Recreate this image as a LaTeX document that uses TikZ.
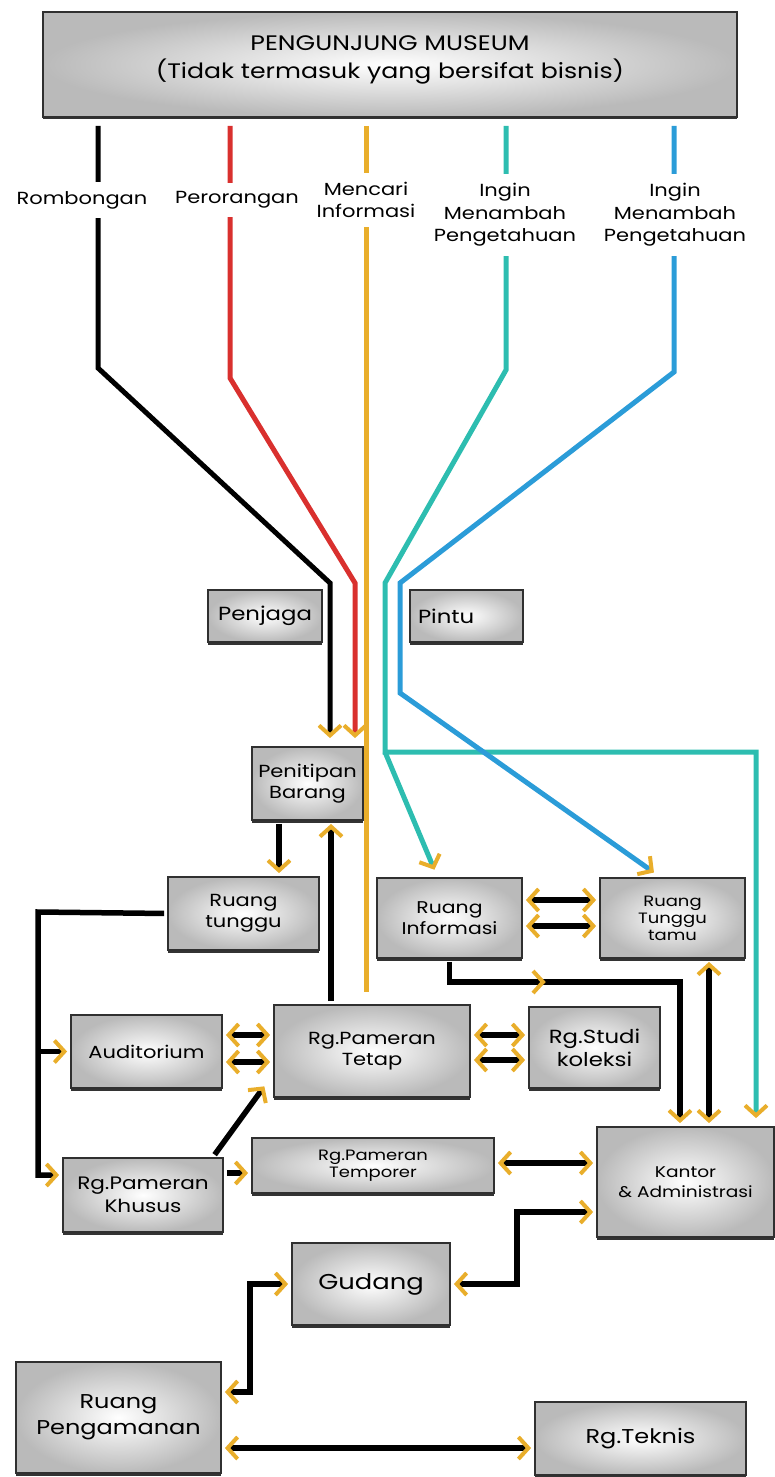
\documentclass[tikz,border=0pt]{standalone}
\usepackage{fontspec}
\setmainfont{Poppins}[FakeStretch=1.2]
\usepackage{tikz}
\usetikzlibrary{arrows.meta,calc,shadows,decorations.markings}
\definecolor{flowYellow}{HTML}{E9AE2B}
\definecolor{flowRed}{HTML}{D9302E}
\definecolor{flowTeal}{HTML}{2DBDB0}
\definecolor{flowBlue}{HTML}{2B9CD8}
\definecolor{boxEdge}{HTML}{303030}
\tikzset{
  fl/room/.style={draw=boxEdge, line width=1.8pt, inner color=white, outer color=black!27, align=center, inner sep=0pt,
    font=\fontsize{17.5}{21}\selectfont, drop shadow={shadow xshift=0pt, shadow yshift=-2.5pt, opacity=0.8, fill=black}},
  fl/small/.style={fl/room, font=\fontsize{15}{17}\selectfont},
  fl/label/.style={fill=white, align=center, inner xsep=2pt, inner ysep=9pt, font=\fontsize{17.5}{22.5}\selectfont},
  fl/line/.style={line width=5pt, shorten >=8pt},
  fl/link/.style={line width=5.5pt, black, shorten >=3pt, shorten <=3pt},
  fl/mid/.style={decoration={markings, mark=at position #1 with {\arrow{>}}}, postaction={decorate}},
  >={Straight Barb[length=10pt, width=22pt, line width=4pt, color=flowYellow]}
}

\begin{document}
\begin{tikzpicture}[x=1pt, y=-1pt]
  \useasboundingbox (0,0) rectangle (775,1477);
  \node[fl/room, minimum width=694pt, minimum height=105pt, text depth=15pt, font=\fontsize{21}{28}\selectfont] (visitor) at (390,64.5) {PENGUNJUNG MUSEUM\\(Tidak termasuk yang bersifat bisnis)};
  \node[fl/room, minimum width=114pt, minimum height=52pt, font=\fontsize{19}{21}\selectfont] (penjaga) at (265,616) {Penjaga};
  \node[fl/room, minimum width=113pt, minimum height=52pt, text width=97pt, align=left, font=\fontsize{19}{21}\selectfont] (pintu) at (466.5,616) {Pintu};
  \node[fl/room, minimum width=111pt, minimum height=73pt] (penitipan) at (307.5,783.5) {Penitipan\\Barang};
  \node[fl/room, minimum width=151pt, minimum height=73pt] (tunggu) at (243.5,913.5) {Ruang\\tunggu};
  \node[fl/room, minimum width=145pt, minimum height=80pt, font=\fontsize{17}{21}\selectfont] (info) at (449.5,918) {Ruang\\Informasi};
  \node[fl/small, minimum width=145pt, minimum height=80pt] (tamu) at (672.5,918) {Ruang\\Tunggu\\tamu};
  \node[fl/room, minimum width=151pt, minimum height=73pt] (audit) at (146.5,1051.5) {Auditorium};
  \node[fl/room, minimum width=196pt, minimum height=92pt] (tetap) at (372,1051) {Rg.Pameran\\Tetap};
  \node[fl/room, minimum width=131pt, minimum height=81pt, font=\fontsize{19}{23}\selectfont] (studi) at (594.5,1047.5) {Rg.Studi\\koleksi};
  \node[fl/small, minimum width=242pt, minimum height=55pt] (temporer) at (373,1165.5) {Rg.Pameran\\Temporer};
  \node[fl/room, minimum width=160pt, minimum height=74pt, font=\fontsize{18}{23}\selectfont] (khusus) at (143,1195) {Rg.Pameran\\Khusus};
  \node[fl/room, minimum width=177pt, minimum height=110pt, font=\fontsize{15.5}{20}\selectfont] (kantor) at (685.5,1182) {Kantor\\\& Administrasi};
  \node[fl/room, minimum width=158pt, minimum height=82pt, font=\fontsize{21.5}{24}\selectfont] (gudang) at (371,1284) {Gudang};
  \node[fl/room, minimum width=205pt, minimum height=111pt, font=\fontsize{20}{26}\selectfont] (aman) at (118.5,1417.5) {Ruang\\Pengamanan};
  \node[fl/room, minimum width=211pt, minimum height=73pt, font=\fontsize{20}{24}\selectfont] (teknis) at (640.5,1438.5) {Rg.Teknis};

  \coordinate (k1) at (98,368);  \coordinate (k2) at (330,583);
  \coordinate (r1) at (230,378); \coordinate (r2) at (355,583);
  \coordinate (y1) at (366,583);
  \coordinate (t1) at (506,370); \coordinate (t2) at (385,583);
  \coordinate (t3) at (385,752); \coordinate (t4) at (756,752);
  \coordinate (b1) at (674,372); \coordinate (b2) at (400,583); \coordinate (b3) at (400,693);
  \draw[fl/line, black, shorten <=8pt, ->] (visitor.south -| k1) -- (k1) -- (k2) -- (penitipan.north -| k2);
  \draw[fl/line, flowRed, shorten <=8pt, ->] (visitor.south -| r1) -- (r1) -- (r2) -- (penitipan.north -| r2);
  \draw[fl/line, flowYellow, shorten <=8pt, shorten >=12pt] (visitor.south -| y1) -- (tetap.north -| y1);
  \draw[fl/line, flowTeal, shorten <=8pt, ->] (visitor.south -| t1) -- (t1) -- (t2) -- (t3) -- (t4) -- (kantor.north -| t4);
  \draw[fl/line, flowTeal, ->] (t3) -- ([xshift=-12pt]info.north);
  \draw[fl/line, flowBlue, shorten <=8pt, ->] (visitor.south -| b1) -- (b1) -- (b2) -- (b3) -- ([xshift=-12pt]tamu.north);

  \node[fl/label] (rombongan) at (82,200) {Rombongan};
  \node[fl/label] (perorangan) at (237,200) {Perorangan};
  \node[fl/label] (mencari) at (366,200) {Mencari\\Informasi};
  \node[fl/label] (ingin) at (505,215) {Ingin\\Menambah\\Pengetahuan};
  \node[fl/label] (ingin2) at (675,215) {Ingin\\Menambah\\Pengetahuan};

  \coordinate (lft) at (38,912);
  \coordinate (ik) at (680,982);
  \coordinate (gk) at (517,1212);
  \coordinate (ga) at (250,1392);
  \draw[fl/link, ->] ([xshift=-28.5pt]penitipan.south) -- ([xshift=-28.5pt]penitipan.south |- tunggu.north);
  \draw[fl/link, ->] ([xshift=-41pt]tetap.north) -- ([xshift=-41pt]tetap.north |- penitipan.south);
  \draw[fl/link, ->] (tunggu.west) -- (lft) |- ([yshift=20pt]khusus.west);
  \draw[fl/link, ->] (lft |- audit.west) -- (audit.west);
  \foreach \dy in {16.5,-10.5}
    \draw[fl/link, <->] ([yshift=\dy pt]audit.east) -- ([yshift=\dy pt]audit.east -| tetap.west);
  \foreach \dy in {16,-9}
    \draw[fl/link, <->] ([yshift=\dy pt]tetap.east) -- ([yshift=\dy pt]tetap.east -| studi.west);
  \foreach \dy in {18,-8}
    \draw[fl/link, <->] ([yshift=\dy pt]info.east) -- ([yshift=\dy pt]info.east -| tamu.west);
  \draw[fl/link, ->] ([xshift=-11pt]khusus.north east) -- ([shift={(-7pt,14pt)}]tetap.south west);
  \draw[fl/link, ->] ([yshift=22pt]khusus.east) -- ([yshift=22pt]khusus.east -| temporer.west);
  \draw[fl/link, <->] ([yshift=2.5pt]temporer.east) -- ([yshift=2.5pt]temporer.east -| kantor.west);
  \draw[fl/link, ->, fl/mid=0.3] (info.south) |- (ik) -- (kantor.north -| ik);
  \draw[fl/link, <->] ([xshift=36.5pt]tamu.south) -- ([xshift=36.5pt]tamu.south |- kantor.north);
  \draw[fl/link, <->] ([yshift=-30pt]kantor.west) -- (gk) |- (gudang.east);
  \draw[fl/link, <->] (gudang.west) -| (ga) -- (ga -| aman.east);
  \draw[fl/link, <->] ([yshift=-30.5pt]aman.east) -- ([yshift=-30.5pt]aman.east -| teknis.west);
\end{tikzpicture}
\end{document}
